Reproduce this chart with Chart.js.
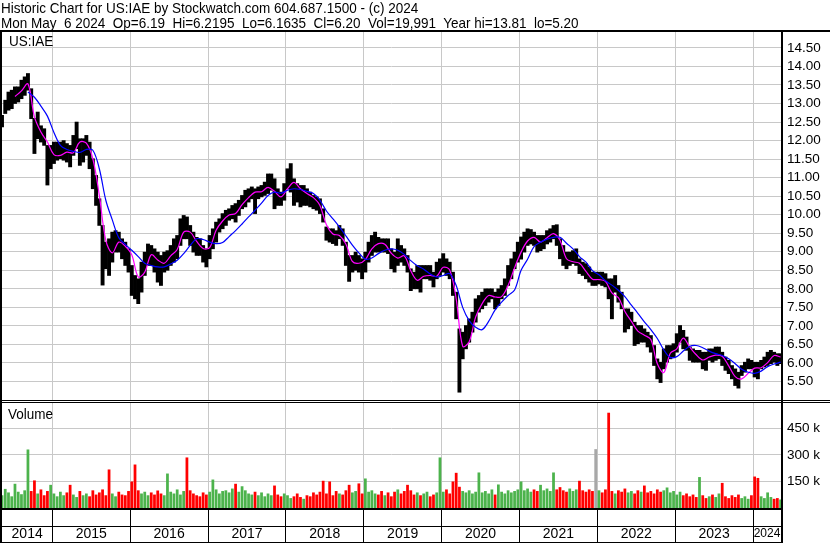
<!DOCTYPE html>
<html lang="en">
<head>
<meta charset="UTF-8">
<title>Historic Chart for US:IAE</title>
<script src="https://cdn.jsdelivr.net/npm/chart.js"></script>
<style>
  body { margin: 0; background: #fff; font-family: "Liberation Sans", Arial, sans-serif; }
  #page { position: relative; width: 830px; height: 543px; overflow: hidden; background: #fff; }
  .txt { position: absolute; font-size: 15px; line-height: 15px; color: #000; white-space: pre; transform: scaleX(0.9); transform-origin: 0 0; }
  .ln { position: absolute; background: #000; }
  canvas { display: block; }
  #priceWrap { position: absolute; left: 0; top: 30px; }
  #volWrap { position: absolute; left: 0; top: 401px; }
</style>
</head>
<body>
<div id="page">
  <div id="priceWrap"><canvas id="priceChart" width="830" height="372"></canvas></div>
  <div id="volWrap"><canvas id="volChart" width="830" height="142"></canvas></div>

  <div class="txt" style="left:1px;top:0">Historic Chart for US:IAE by Stockwatch.com 604.687.1500 - (c) 2024
Mon May  6 2024  Op=6.19  Hi=6.2195  Lo=6.1635  Cl=6.20  Vol=19,991  Year hi=13.81  lo=5.20</div>
  <div class="txt" style="left:9px;top:33px">US:IAE</div>
  <div class="txt" style="left:8px;top:406px">Volume</div>

  <!-- frame -->
  <div class="ln" style="left:0;top:30px;width:830px;height:2px"></div>
  <div class="ln" style="left:0;top:30px;width:2px;height:513px"></div>
  <div class="ln" style="left:781px;top:30px;width:2px;height:513px"></div>
  <div class="ln" style="left:0;top:400px;width:830px;height:1px"></div>
  <div class="ln" style="left:0;top:402px;width:830px;height:1px"></div>
  <div class="ln" style="left:0;top:508px;width:783px;height:2px"></div>
  <div class="ln" style="left:0;top:526px;width:783px;height:1px"></div>
  <div class="ln" style="left:0;top:542px;width:783px;height:1px"></div>
</div>

<script>
  const FONT = '"Liberation Sans", Arial, sans-serif';

  // half-month periods, first one = early May 2014
  const firstPeriod = 2014.354;
  const periodsPerYear = 24;
  const xMin = 2014.354, xMax = 2024.359;

  // period high / low
  const highs = [
    12.68, 13.09, 13.31, 13.36, 13.45, 13.45, 13.63, 13.72, 13.81, 13.40,
    12.60, 12.77, 12.40, 12.32, 11.87, 11.87, 11.96, 11.96, 11.96, 12.00,
    11.92, 11.87, 12.14, 12.50, 12.05, 12.05, 12.14, 11.96, 11.51, 11.06,
    10.43, 9.71, 9.26, 9.35, 9.53, 9.57, 9.53, 9.35, 9.26, 9.08,
    8.63, 8.36, 8.27, 8.72, 8.99, 9.21, 9.17, 9.08, 8.99, 8.90,
    8.99, 9.03, 9.17, 9.35, 9.44, 9.89, 9.98, 9.94, 9.71, 9.53,
    9.39, 9.35, 9.17, 9.08, 9.44, 9.62, 9.80, 9.89, 10.03, 10.12,
    10.16, 10.25, 10.30, 10.39, 10.52, 10.66, 10.70, 10.75, 10.70, 10.75,
    10.79, 10.88, 11.10, 11.10, 10.97, 10.70, 10.61, 10.84, 11.24, 11.38,
    10.97, 10.84, 10.79, 10.79, 10.70, 10.61, 10.52, 10.48, 10.43, 10.16,
    9.67, 9.62, 9.62, 9.57, 9.71, 9.62, 9.26, 8.90, 8.90, 8.99,
    8.90, 8.81, 8.99, 9.26, 9.44, 9.53, 9.39, 9.35, 9.35, 9.35,
    9.08, 8.99, 9.35, 9.17, 9.08, 8.90, 8.54, 8.45, 8.63, 8.63,
    8.63, 8.63, 8.63, 8.45, 8.72, 8.81, 8.95, 8.81, 8.72, 8.45,
    7.91, 6.92, 6.83, 7.01, 7.19, 7.37, 7.73, 7.82, 7.91, 8.00,
    8.00, 8.00, 7.91, 8.00, 8.09, 8.27, 8.63, 8.81, 8.99, 9.26,
    9.40, 9.53, 9.62, 9.60, 9.53, 9.44, 9.44, 9.44, 9.57, 9.62,
    9.71, 9.73, 9.35, 9.17, 8.99, 8.99, 9.03, 9.08, 8.81, 8.72,
    8.68, 8.59, 8.45, 8.45, 8.45, 8.45, 8.41, 8.27, 8.27, 8.36,
    8.09, 7.91, 7.46, 7.46, 7.37, 7.10, 7.01, 7.01, 6.92, 6.83,
    6.74, 6.47, 6.11, 6.02, 6.38, 6.47, 6.47, 6.52, 6.79, 7.01,
    6.88, 6.70, 6.43, 6.38, 6.34, 6.34, 6.29, 6.29, 6.38, 6.38,
    6.43, 6.43, 6.29, 6.16, 6.07, 5.93, 5.84, 5.75, 5.93, 6.02,
    6.11, 6.07, 6.02, 6.02, 6.07, 6.16, 6.29, 6.34, 6.29, 6.25,
    6.25
  ];
  const lows = [
    12.37, 12.73, 12.82, 12.86, 13.00, 13.04, 13.13, 13.22, 13.36, 12.59,
    11.65, 12.05, 11.96, 11.87, 10.80, 11.24, 11.38, 11.47, 11.51, 11.47,
    11.42, 11.29, 11.60, 11.78, 11.33, 11.42, 11.60, 11.24, 10.70, 10.25,
    9.71, 8.10, 8.54, 8.36, 8.72, 8.99, 8.99, 8.81, 8.63, 8.45,
    7.82, 7.73, 7.60, 7.91, 8.36, 8.63, 8.63, 8.45, 8.18, 8.09,
    8.45, 8.50, 8.63, 8.72, 8.81, 9.17, 9.35, 9.35, 9.17, 8.99,
    8.90, 8.90, 8.72, 8.59, 8.81, 9.08, 9.26, 9.53, 9.62, 9.71,
    9.85, 9.89, 9.80, 9.98, 10.16, 10.21, 10.34, 10.43, 10.03, 10.43,
    10.48, 10.52, 10.57, 10.66, 10.16, 10.25, 10.25, 10.39, 10.70, 10.61,
    10.25, 10.34, 10.21, 10.25, 10.25, 10.21, 10.16, 10.12, 10.03, 9.80,
    9.31, 9.26, 9.22, 9.17, 9.35, 9.17, 8.63, 8.20, 8.45, 8.50,
    8.45, 8.27, 8.45, 8.72, 8.90, 8.99, 8.99, 8.99, 8.99, 8.95,
    8.54, 8.45, 8.63, 8.72, 8.63, 8.45, 7.95, 8.00, 8.00, 7.91,
    8.27, 8.27, 8.23, 8.05, 8.27, 8.36, 8.45, 8.36, 8.27, 7.82,
    7.19, 5.21, 6.11, 6.38, 6.56, 6.83, 7.10, 7.37, 7.46, 7.55,
    7.64, 7.73, 7.46, 7.55, 7.73, 7.82, 8.09, 8.27, 8.54, 8.72,
    8.80, 8.99, 9.17, 9.21, 9.17, 8.99, 9.03, 9.08, 9.21, 9.26,
    9.35, 9.17, 8.81, 8.63, 8.54, 8.63, 8.68, 8.63, 8.41, 8.36,
    8.27, 8.18, 8.09, 8.09, 8.13, 8.09, 8.05, 7.73, 7.19, 7.91,
    7.64, 7.46, 6.83, 6.92, 7.01, 6.47, 6.52, 6.56, 6.56, 6.43,
    6.29, 5.93, 5.57, 5.47, 5.84, 6.02, 6.11, 6.16, 6.29, 6.56,
    6.38, 6.34, 6.07, 6.02, 6.02, 6.02, 5.84, 5.80, 6.07, 6.02,
    6.07, 6.11, 5.93, 5.80, 5.71, 5.57, 5.39, 5.32, 5.66, 5.75,
    5.84, 5.84, 5.62, 5.57, 5.84, 5.89, 5.93, 5.98, 6.02, 5.93,
    5.98
  ];

  // moving averages, one value per month (every second period)
  const maFast = [
    null, null, 13.19, 13.34, 13.53, 12.64, 12.23, 11.96, 11.62, 11.60,
    11.69, 11.67, 11.96, 11.93, 11.51, 10.52, 9.31, 8.97, 9.26, 9.15,
    8.92, 8.32, 8.45, 8.92, 8.78, 8.69, 8.89, 9.06, 9.53, 9.53,
    9.28, 9.09, 9.11, 9.58, 9.83, 9.99, 10.03, 10.27, 10.46, 10.61,
    10.62, 10.74, 10.63, 10.48, 10.70, 10.87, 10.70, 10.57, 10.46, 10.25,
    9.73, 9.48, 9.44, 9.21, 8.74, 8.69, 8.79, 9.08, 9.22, 9.20,
    8.96, 8.83, 8.89, 8.49, 8.23, 8.34, 8.36, 8.34, 8.58, 8.51,
    7.73, 6.45, 6.57, 7.24, 7.60, 7.82, 7.78, 7.79, 8.09, 8.57,
    8.99, 9.29, 9.39, 9.26, 9.38, 9.49, 9.31, 8.81, 8.73, 8.69,
    8.47, 8.26, 8.25, 8.20, 7.89, 7.76, 7.39, 7.12, 6.86, 6.75,
    6.63, 5.98, 5.74, 6.26, 6.38, 6.67, 6.43, 6.22, 6.08, 6.16,
    6.21, 6.18, 5.92, 5.63, 5.57, 5.72, 5.86, 5.87, 6.01, 6.20,
    6.16
  ];
  const maSlow = [
    null, null, null, null, 13.31, 13.17, 12.93, 12.66, 12.22, 11.87,
    11.76, 11.71, 11.68, 11.76, 11.74, 11.24, 10.39, 9.86, 9.38, 9.20,
    9.04, 8.87, 8.69, 8.63, 8.59, 8.59, 8.67, 8.77, 8.95, 9.17,
    9.35, 9.33, 9.26, 9.22, 9.25, 9.41, 9.57, 9.75, 9.94, 10.12,
    10.31, 10.52, 10.61, 10.58, 10.66, 10.70, 10.68, 10.63, 10.57, 10.39,
    10.10, 9.89, 9.67, 9.43, 9.18, 8.97, 8.80, 8.83, 8.95, 9.04,
    9.08, 9.04, 8.93, 8.76, 8.62, 8.53, 8.40, 8.32, 8.36, 8.41,
    8.09, 7.50, 7.14, 6.96, 6.90, 7.12, 7.43, 7.64, 7.82, 7.97,
    8.50, 8.80, 9.14, 9.26, 9.34, 9.39, 9.39, 9.23, 9.08, 8.87,
    8.72, 8.49, 8.38, 8.22, 8.10, 7.96, 7.79, 7.56, 7.34, 7.11,
    6.90, 6.66, 6.35, 6.15, 6.17, 6.32, 6.45, 6.47, 6.41, 6.32,
    6.25, 6.20, 6.11, 5.98, 5.83, 5.75, 5.72, 5.78, 5.90, 5.97,
    6.02
  ];

  // volume per period, thousands of shares
  const volumesK = [
    72, 108, 88, 66, 137, 92, 78, 100, 331, 96,
    156, 82, 105, 72, 96, 131, 82, 66, 92, 72,
    88, 131, 76, 62, 96, 72, 82, 66, 100, 76,
    88, 105, 72, 218, 82, 66, 92, 76, 72, 96,
    150, 246, 100, 82, 92, 72, 88, 76, 99, 82,
    72, 195, 92, 82, 105, 76, 96, 286, 100, 82,
    72, 66, 88, 76, 92, 161, 105, 82, 96, 100,
    88, 110, 137, 92, 123, 100, 82, 76, 92, 72,
    88, 66, 82, 72, 127, 76, 66, 82, 72, 56,
    66, 82, 62, 52, 72, 66, 88, 76, 92, 154,
    82, 150, 72, 96, 82, 76, 100, 131, 88, 96,
    139, 82, 167, 92, 100, 82, 76, 96, 72, 88,
    66, 92, 105, 82, 96, 131, 100, 76, 88, 72,
    82, 92, 66, 76, 88, 286, 92, 105, 82, 150,
    199, 120, 96, 88, 100, 82, 92, 201, 88, 96,
    82, 105, 76, 133, 92, 82, 100, 88, 96, 105,
    150, 100, 110, 92, 105, 96, 131, 100, 110, 96,
    201, 105, 118, 100, 92, 110, 96, 105, 154, 100,
    92, 105, 96, 333, 100, 88, 105, 539, 96, 82,
    100, 92, 110, 88, 96, 82, 100, 92, 127, 88,
    96, 82, 105, 92, 100, 116, 88, 96, 76, 92,
    72, 82, 66, 76, 62, 175, 72, 56, 66, 76,
    62, 82, 142, 66, 56, 72, 62, 76, 56, 66,
    52, 72, 178, 170, 66, 56, 88, 62, 52, 56,
    48
  ];
  const flatPeriods = [183]; // unchanged close -> grey volume bar

  const yearStarts = [2015, 2016, 2017, 2018, 2019, 2020, 2021, 2022, 2023, 2024];
  const yearLabels = ['2014', '2015', '2016', '2017', '2018', '2019', '2020', '2021', '2022', '2023', '2024'];
  const priceTicks = [5.5, 6, 6.5, 7, 7.5, 8, 8.5, 9, 9.5, 10, 10.5, 11, 11.5, 12, 12.5, 13, 13.5, 14, 14.5];
  const volTicksK = [150, 300, 450];

  const GRID = '#c8c8c8';
  const periodX = i => firstPeriod + i / periodsPerYear;

  const priceBars = highs.map((h, i) => ({ x: periodX(i), y: [lows[i], h] }));
  const fastPts = maFast.map((v, k) => ({ x: periodX(2 * k), y: v }));
  const slowPts = maSlow.map((v, k) => ({ x: periodX(2 * k), y: v }));

  const mid = i => (highs[i] + lows[i]) / 2;
  const volBars = volumesK.map((v, i) => ({ x: periodX(i), y: v }));
  const volColors = volumesK.map((v, i) => {
    if (flatPeriods.includes(i)) return '#a8a8a8';
    return (i === 0 || mid(i) >= mid(i - 1)) ? '#4cb34c' : '#ff0000';
  });

  // year boundaries + centres for the bottom labels
  const yearEdges = [xMin, ...yearStarts, xMax];
  const yearMids = yearLabels.map((t, k) => (yearEdges[k] + yearEdges[k + 1]) / 2);

  // keep chart areas exactly where the frame is (no label padding)
  const noPad = s => { s.paddingTop = 0; s.paddingBottom = 0; s.paddingLeft = 0; s.paddingRight = 0; };

  function yearGridAxis() {
    return {
      type: 'linear', min: xMin, max: xMax, offset: false,
      grid: { color: GRID, drawTicks: false, offset: false },
      border: { display: false },
      ticks: { display: false },
      afterBuildTicks: s => { s.ticks = yearStarts.map(v => ({ value: v })); },
      afterFit: s => { s.height = 0; noPad(s); }
    };
  }

  Chart.defaults.font.family = FONT;
  Chart.defaults.color = '#000';

  new Chart(document.getElementById('priceChart'), {
    type: 'bar',
    data: {
      datasets: [
        { type: 'line', data: slowPts, borderColor: '#0000ff', borderWidth: 1.2, pointRadius: 0, tension: 0.35 },
        { type: 'line', data: fastPts, borderColor: '#ff00ff', borderWidth: 1.2, pointRadius: 0, tension: 0.35 },
        { type: 'bar', data: priceBars, backgroundColor: '#000', barPercentage: 1, categoryPercentage: 1, grouped: false }
      ]
    },
    options: {
      responsive: false,
      animation: false,
      layout: { padding: { left: 2, right: 0, top: 2, bottom: 2 } },
      plugins: { legend: { display: false }, tooltip: { enabled: false } },
      scales: {
        x: yearGridAxis(),
        y: {
          position: 'right', min: 5, max: 14.93,
          grid: { color: GRID, drawTicks: false },
          border: { display: false },
          afterBuildTicks: s => { s.ticks = priceTicks.map(v => ({ value: v })); },
          afterFit: s => { s.width = 49; noPad(s); },
          ticks: { padding: 6, font: { size: 13.5 }, callback: v => v.toFixed(2) }
        }
      }
    }
  });

  new Chart(document.getElementById('volChart'), {
    type: 'bar',
    data: {
      datasets: [
        { data: volBars, backgroundColor: volColors, barPercentage: 0.85, categoryPercentage: 1, xAxisID: 'x' }
      ]
    },
    options: {
      responsive: false,
      animation: false,
      layout: { padding: { left: 2, right: 0, top: 2, bottom: 1 } },
      plugins: { legend: { display: false }, tooltip: { enabled: false } },
      scales: {
        x: yearGridAxis(),
        xl: {
          type: 'linear', position: 'bottom', min: xMin, max: xMax, offset: false,
          grid: {
            drawOnChartArea: false, drawTicks: true, tickLength: 34, lineWidth: 1, offset: false,
            tickColor: c => (c.tick && yearStarts.includes(c.tick.value)) ? '#000' : 'rgba(0,0,0,0)'
          },
          border: { display: false },
          afterBuildTicks: s => {
            s.ticks = [...yearStarts, ...yearMids].sort((a, b) => a - b).map(v => ({ value: v }));
          },
          afterFit: s => { s.height = 34; noPad(s); },
          ticks: {
            autoSkip: false, maxRotation: 0, minRotation: 0, padding: -16,
            font: c => ({ size: (c.tick && c.tick.value > 2024) ? 12 : 14 }),
            callback: v => {
              const k = yearMids.indexOf(v);
              return k >= 0 ? yearLabels[k] : '';
            }
          }
        },
        y: {
          position: 'right', min: 0, max: 594,
          grid: { color: GRID, drawTicks: false },
          border: { display: false },
          afterBuildTicks: s => { s.ticks = volTicksK.map(v => ({ value: v })); },
          afterFit: s => { s.width = 49; noPad(s); },
          ticks: { padding: 6, font: { size: 13.5 }, callback: v => v + ' k' }
        }
      }
    }
  });
</script>
</body>
</html>
